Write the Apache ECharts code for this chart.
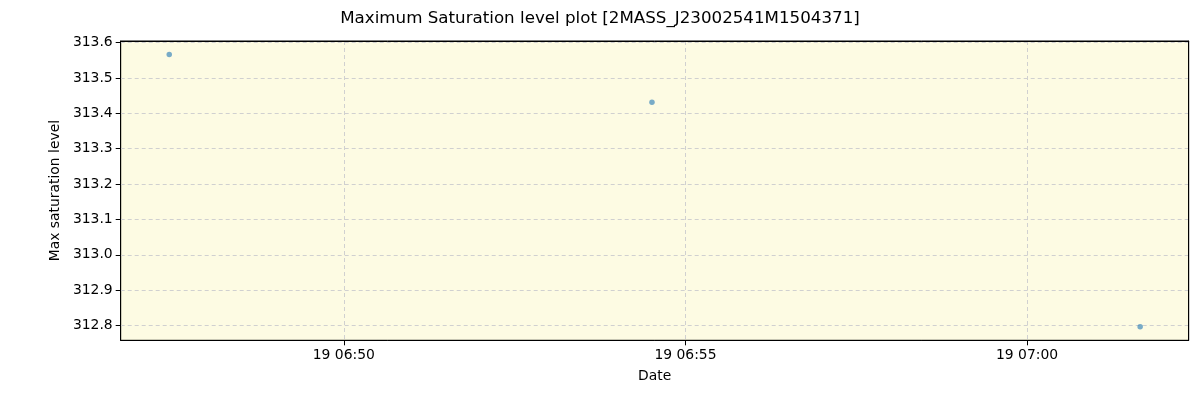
<!DOCTYPE html>
<html><head><meta charset="utf-8">
<script src="https://cdn.jsdelivr.net/npm/echarts@6/dist/echarts.min.js"></script>
<style>html,body{margin:0;padding:0;background:#fff}#c{width:1200px;height:400px}</style>
</head><body><div id="c"></div>
<script>
var times = ['2023-08-19T06:47:26.7', '2023-08-19T06:54:30.6', '2023-08-19T07:01:39.3'];
var maxSat = [313.566, 313.431, 312.797];
var xTickLabels = ['2023-08-19T06:50:00', '2023-08-19T06:55:00', '2023-08-19T07:00:00'];
var yTickLabels = [312.8, 312.9, 313.0, 313.1, 313.2, 313.3, 313.4, 313.5, 313.6];

var tms = times.map(function(t){return new Date(t).getTime();});
var xt = xTickLabels.map(function(t){return new Date(t).getTime();});
var tmin = Math.min.apply(null, tms), tmax = Math.max.apply(null, tms);
var ymin = Math.min.apply(null, maxSat), ymax = Math.max.apply(null, maxSat);
var xpad = (tmax - tmin) * 0.05, ypad = (ymax - ymin) * 0.05;
function pad2(n){return (n<10?'0':'')+n;}
var font = 'DejaVu Sans';
var chart = echarts.init(document.getElementById('c'));
chart.setOption({
  animation: false,
  backgroundColor: '#ffffff',
  title: {text: 'Maximum Saturation level plot [2MASS_J23002541M1504371]', left: 'center', top: 5,
    textStyle: {fontFamily: font, fontSize: 16.7, fontWeight: 'normal', color: '#000'}},
  grid: {left: 120.7, right: 11.3, top: 41, bottom: 59.7, show: true, backgroundColor: '#fdfbe3', borderColor: '#000', borderWidth: 1},
  xAxis: [{type: 'value', min: tmin - xpad, max: tmax + xpad,
    name: 'Date', nameLocation: 'middle', nameGap: 29,
    nameTextStyle: {fontFamily: font, fontSize: 13.9, color: '#000'},
    axisLine: {show: true, lineStyle: {color: '#000'}},
    axisTick: {show: true, length: 5, customValues: xt, lineStyle: {color: '#000'}},
    axisLabel: {customValues: xt, fontFamily: font, fontSize: 13.9, color: '#000', margin: 8,
      formatter: function(v){var d = new Date(v); return pad2(d.getDate()) + ' ' + pad2(d.getHours()) + ':' + pad2(d.getMinutes());}},
    splitLine: {show: true, lineStyle: {color: '#d0d0d0', type: [4, 3], width: 1}}
  }, {type: 'value', position: 'top', min: tmin - xpad, max: tmax + xpad,
    axisLine: {show: true, onZero: false, lineStyle: {color: '#000'}}, axisTick: {show: false}, axisLabel: {show: false}, splitLine: {show: false}
  }],
  yAxis: [{type: 'value', min: ymin - ypad, max: ymax + ypad,
    name: 'Max saturation level', nameLocation: 'middle', nameGap: 57, nameRotate: 90,
    nameTextStyle: {fontFamily: font, fontSize: 13.9, color: '#000'},
    axisLine: {show: true, lineStyle: {color: '#000'}},
    axisTick: {show: true, length: 5, customValues: yTickLabels, lineStyle: {color: '#000'}},
    axisLabel: {customValues: yTickLabels, fontFamily: font, fontSize: 13.9, color: '#000', margin: 8,
      formatter: function(v){return v.toFixed(1);}},
    splitLine: {show: true, lineStyle: {color: '#d0d0d0', type: [4, 3], width: 1}}
  }, {type: 'value', position: 'right', min: ymin - ypad, max: ymax + ypad,
    axisLine: {show: true, onZero: false, lineStyle: {color: '#000'}}, axisTick: {show: false}, axisLabel: {show: false}, splitLine: {show: false}
  }],
  series: [{type: 'scatter', symbolSize: 5.5,
    itemStyle: {color: '#1f77b4', opacity: 0.6},
    data: tms.map(function(t, i){return [t, maxSat[i]];})}]
});
</script></body></html>
